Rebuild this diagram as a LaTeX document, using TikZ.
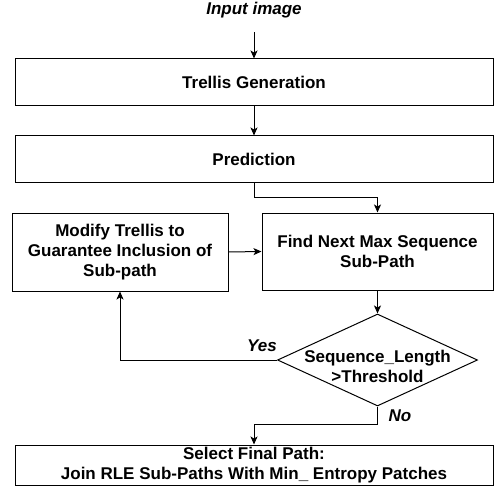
\documentclass[tikz,border=0pt]{standalone}
\usepackage{fontspec}
\setmainfont{Liberation Sans}
\usepackage{tikz}
\usetikzlibrary{shapes.geometric,arrows.meta}

\begin{document}
\begin{tikzpicture}[x=1pt,y=-1pt,
             font=\fontsize{17}{20}\selectfont\bfseries,
             box/.style={draw, line width=1pt, inner sep=0pt, align=center},
             flow/.style={line width=1pt, -{Stealth[length=8pt,width=7pt,inset=2pt]}},
             lbl/.style={draw=none, font=\fontsize{17}{20}\selectfont\bfseries\itshape}]
             \useasboundingbox (0,0) rectangle (494,494);

             \node[lbl] (input) at (254, 10) {Input image};

             \node[box, minimum width=478pt, minimum height=47pt] (trellis) at (254, 82.5) {Trellis Generation};
             \node[box, minimum width=478pt, minimum height=47pt] (predict) at (254, 159.5) {Prediction};

             \node[box, minimum width=216pt, minimum height=78pt] (modify) at (120, 252) {Modify Trellis to\\Guarantee Inclusion of\\Sub-path};
             \node[box, minimum width=231pt, minimum height=77pt] (findmax) at (377.5, 251.5) {Find Next Max Sequence\\Sub-Path};

             \node[diamond, draw, line width=1pt, inner sep=0pt, aspect=2.17,
                   minimum width=200pt, minimum height=92pt] (test) at (377.5, 360) {};
             \node[draw=none, align=center] (testtext) at (377.5, 366) {Sequence\_Length\\>Threshold};

             \node[box, minimum width=478pt, minimum height=40pt] (final) at (254, 465) {Select Final Path:\\Join RLE Sub-Paths With Min\_ Entropy Patches};

             \draw[flow, shorten <=11pt] (input.south) -- (trellis.north);
             \draw[flow] (trellis.south) -- (predict.north);
             \draw[flow] (predict.south) -- ++(0, 14) -| (findmax.north);
             \draw[flow] (modify.east) -- (findmax.west);
             \draw[flow] (findmax.south) -- (test.north);
             \draw[flow] (test.west) -| (modify.south);
             \draw[flow] (test.south) -- ++(0, 18) -| (final.north);

             \node[lbl] (yes) at (262, 346) {Yes};
             \node[lbl] (no) at (400, 416) {No};
\end{tikzpicture}
\end{document}
